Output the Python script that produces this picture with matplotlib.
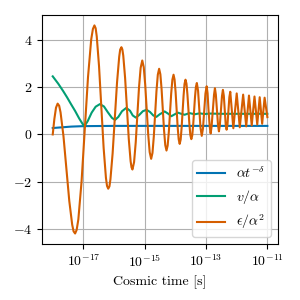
import numpy as np
import matplotlib
matplotlib.use("Agg")
import matplotlib.pyplot as plt
from matplotlib.ticker import NullLocator, FixedLocator

plt.rcParams.update({
    "font.family": "serif",
    "font.serif": ["cmr10"],
    "mathtext.fontset": "cm",
    "axes.formatter.use_mathtext": True,
    "axes.unicode_minus": True,
    "font.size": 10,
})

# ---- data: (log10 of cosmic time in s, value) ----
blue_data = [(-18.0, 0.27), (-17.8, 0.29), (-17.6, 0.31), (-17.4, 0.33), (-17.2, 0.34),
             (-17.0, 0.35), (-16.5, 0.355), (-16.0, 0.36), (-15.0, 0.36), (-13.0, 0.36),
             (-11.0, 0.36)]

green_data = [(-18.00, 2.45), (-17.82, 2.14), (-17.66, 1.83), (-17.53, 1.56), (-17.40, 1.27),
              (-17.27, 0.99), (-17.14, 0.68), (-17.04, 0.47), (-16.97, 0.34), (-16.86, 0.56),
              (-16.73, 0.92), (-16.60, 1.17), (-16.46, 1.28), (-16.33, 1.18), (-16.20, 0.93),
              (-16.07, 0.70), (-15.97, 0.61), (-15.86, 0.74), (-15.74, 0.98), (-15.60, 1.12),
              (-15.48, 1.00), (-15.39, 0.80), (-15.29, 0.71), (-15.18, 0.82), (-15.06, 0.98),
              (-14.94, 1.04), (-14.83, 0.95), (-14.72, 0.80), (-14.62, 0.74), (-14.51, 0.85),
              (-14.35, 0.97), (-14.23, 0.87), (-14.13, 0.77), (-14.02, 0.85), (-13.92, 0.92),
              (-13.81, 0.87), (-13.70, 0.83), (-13.54, 0.90), (-13.37, 0.85), (-13.21, 0.89),
              (-13.05, 0.86), (-12.89, 0.88), (-12.50, 0.87), (-12.00, 0.87), (-11.50, 0.87),
              (-11.00, 0.87)]

orange_data = [
    (-18.00, 0.00), (-17.947, 0.65), (-17.893, 1.13), (-17.84, 1.30), (-17.79, 1.21),
    (-17.745, 0.93), (-17.65, -0.07), (-17.555, -1.44), (-17.46, -2.81), (-17.365, -3.81),
    (-17.32, -4.09), (-17.27, -4.18), (-17.22, -4.03), (-17.165, -3.59), (-17.06, -1.99),
    (-16.955, 0.21), (-16.85, 2.41), (-16.745, 4.01), (-16.69, 4.45), (-16.64, 4.60),
    (-16.60, 4.48), (-16.565, 4.14), (-16.49, 2.88), (-16.415, 1.16), (-16.34, -0.57),
    (-16.265, -1.83), (-16.23, -2.17), (-16.19, -2.29), (-16.15, -2.19), (-16.118, -1.89),
    (-16.047, -0.80), (-15.975, 0.70), (-15.903, 2.19), (-15.832, 3.28), (-15.80, 3.58),
    (-15.76, 3.68), (-15.73, 3.59), (-15.70, 3.33), (-15.64, 2.39), (-15.58, 1.10),
    (-15.52, -0.19), (-15.46, -1.13), (-15.43, -1.39), (-15.40, -1.48),
    (-15.347, -1.17), (-15.293, -0.33), (-15.24, 0.82), (-15.187, 1.97), (-15.133, 2.81),
    (-15.08, 3.12),
    (-15.032, 2.84), (-14.983, 2.08), (-14.935, 1.05), (-14.887, 0.01), (-14.838, -0.75),
    (-14.79, -1.03),
    (-14.747, -0.78), (-14.703, -0.08), (-14.66, 0.87), (-14.617, 1.82), (-14.573, 2.52),
    (-14.53, 2.77),
    (-14.49, 2.54), (-14.45, 1.91), (-14.41, 1.05), (-14.37, 0.18), (-14.33, -0.45),
    (-14.29, -0.68),
    (-14.252, -0.47), (-14.213, 0.12), (-14.175, 0.92), (-14.137, 1.72), (-14.098, 2.31),
    (-14.06, 2.52),
    (-14.027, 2.32), (-13.993, 1.79), (-13.96, 1.06), (-13.927, 0.33), (-13.893, -0.20),
    (-13.86, -0.40),
    (-13.828, -0.22), (-13.797, 0.28), (-13.765, 0.96), (-13.733, 1.63), (-13.702, 2.13),
    (-13.67, 2.31),
    (-13.638, 2.14), (-13.607, 1.68), (-13.575, 1.06), (-13.543, 0.43), (-13.512, -0.03),
    (-13.48, -0.20),
    (-13.45, -0.04), (-13.42, 0.39), (-13.39, 0.99), (-13.36, 1.58), (-13.33, 2.01),
    (-13.30, 2.17),
    (-13.26, 1.84), (-13.22, 1.06), (-13.18, 0.27), (-13.14, -0.06),
    (-13.10, 0.25), (-13.06, 0.99), (-13.02, 1.72), (-12.98, 2.03),
    (-12.95, 1.74), (-12.92, 1.04), (-12.88, 0.33), (-12.85, 0.04),
    (-12.82, 0.32), (-12.78, 1.00), (-12.74, 1.67), (-12.71, 1.95),
    (-12.68, 1.68), (-12.645, 1.04), (-12.61, 0.40), (-12.58, 0.13),
    (-12.55, 0.39), (-12.515, 1.00), (-12.48, 1.62), (-12.45, 1.88),
    (-12.42, 1.63), (-12.39, 1.04), (-12.36, 0.44), (-12.33, 0.20),
    (-12.30, 0.43), (-12.27, 1.00), (-12.24, 1.57), (-12.21, 1.80),
    (-12.16, 1.03), (-12.11, 0.26), (-12.055, 1.00), (-12.00, 1.73),
    (-11.95, 1.02), (-11.90, 0.30), (-11.845, 0.99), (-11.79, 1.68),
    (-11.74, 1.01), (-11.69, 0.34), (-11.645, 0.99), (-11.60, 1.64),
    (-11.555, 1.01), (-11.51, 0.38), (-11.465, 0.99), (-11.42, 1.60),
    (-11.375, 1.01), (-11.33, 0.42), (-11.29, 0.995), (-11.25, 1.57),
    (-11.21, 1.01), (-11.17, 0.45), (-11.13, 1.00), (-11.09, 1.55),
    (-11.00, 0.73),
]

labels = [r"$\alpha t^{-\delta}$", r"$v/\alpha$", r"$\epsilon/\alpha^2$"]
colors = ["#0173B2", "#029E73", "#D55E00"]
xtick_vals = [1e-17, 1e-15, 1e-13, 1e-11]
ytick_vals = [-4, -2, 0, 2, 4]

fig = plt.figure(figsize=(3, 3), dpi=100)
ax = fig.add_axes([0.14, 0.187, 0.787, 0.763])

for data, color, label in zip([blue_data, green_data, orange_data], colors, labels):
    arr = np.array(data)
    ax.plot(10.0 ** arr[:, 0], arr[:, 1], color=color, lw=1.5, label=label)

ax.set_xscale("log")
ax.xaxis.set_major_locator(FixedLocator(xtick_vals))
ax.xaxis.set_minor_locator(NullLocator())
ax.set_yticks(ytick_vals)
ax.grid(True, color="#b0b0b0", lw=0.8)
ax.set_axisbelow(True)
ax.set_xlabel("Cosmic time [s]")
ax.legend(loc="lower right", fontsize=10)

fig.savefig("out.png", dpi=100)
